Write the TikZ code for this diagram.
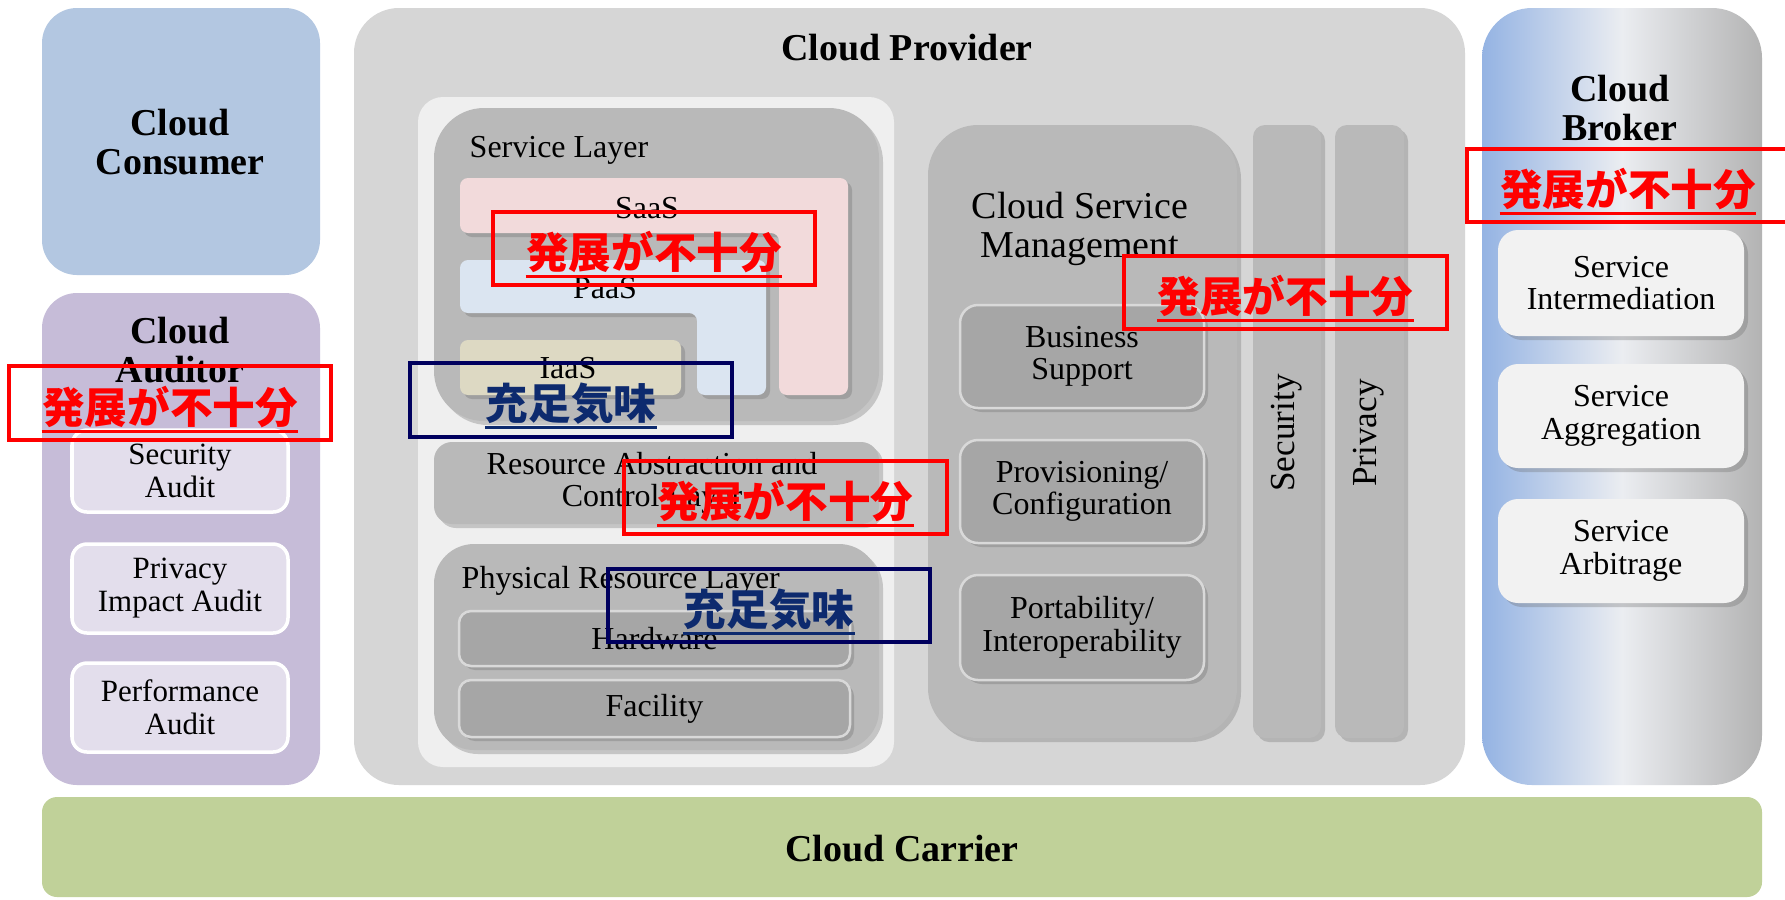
\documentclass[tikz,border=0pt]{standalone}
\usepackage{fontspec}
\setmainfont{Liberation Serif}
\newfontfamily\cjk{Noto Sans CJK JP}
\usetikzlibrary{fit,shadows}
\definecolor{consumerc}{HTML}{B3C7E1}
\definecolor{auditorc}{HTML}{C6BCD8}
\definecolor{auditsubc}{HTML}{E3DEEC}
\definecolor{providerc}{HTML}{D6D6D6}
\definecolor{panelc}{HTML}{EFEFEF}
\definecolor{layerc}{HTML}{B9B9B9}
\definecolor{subc}{HTML}{A6A6A6}
\definecolor{saasc}{HTML}{F2DADB}
\definecolor{paasc}{HTML}{DBE5F1}
\definecolor{iaasc}{HTML}{DDD9C3}
\definecolor{brokerL}{HTML}{94B3E3}
\definecolor{brokerM}{HTML}{EBEDF1}
\definecolor{brokerR}{HTML}{B3B3B3}
\definecolor{brokersubc}{HTML}{F2F2F2}
\definecolor{carrierc}{HTML}{C0D199}
\definecolor{navytext}{HTML}{0D2A6E}
\definecolor{navyline}{HTML}{00005E}
\newcommand\ftitle{\bfseries\fontsize{10.8}{11.3}\selectfont}
\newcommand\fmgmt{\fontsize{10.8}{11.2}\selectfont}
\newcommand\fmid{\fontsize{9.1}{9.2}\selectfont}
\newcommand\fsmall{\fontsize{8.8}{9.4}\selectfont}
\newcommand\fcol{\fontsize{10}{10}\selectfont}
\newcommand\fjp{\cjk\bfseries\fontsize{12.1}{13}\selectfont}
\begin{document}
\begin{tikzpicture}[x=0.01cm,y=-0.01cm,
  area/.style={fit={#1}, inner sep=0pt, outer sep=0pt},
  shad/.style={drop shadow={shadow xshift=0.04cm, shadow yshift=-0.04cm, opacity=0.3, fill=black!60}},
  title/.style={align=center, font=\ftitle, inner sep=0pt},
  lbl/.style={align=center, font=\fmid, inner sep=0pt},
  audsub/.style={fill=auditsubc, draw=white, line width=0.035cm, rounded corners=0.15cm},
  graysub/.style={fill=subc, draw=black!15, line width=0.025cm, rounded corners=0.18cm, shad},
  brksub/.style={fill=brokersubc, rounded corners=0.2cm, shad},
  col/.style={fill=layerc, rounded corners=0.12cm, shad},
  annot/.style={draw=#1, line width=0.04cm, minimum width=3.22cm, minimum height=0.73cm, inner sep=0pt},
  jptext/.style={text=#1, font=\fjp, inner sep=0pt},
  uline/.style={draw=#1, line width=0.03cm}]
\useasboundingbox (0,0) rectangle (1785,899);
\fill[white] (0,0) rectangle (1785,899);

% Cloud Consumer
\node[area={(42,8)(320,275)}, fill=consumerc, rounded corners=0.35cm] (consumer) {};
\node[title] (consumerT) at (180,142) {Cloud\\Consumer};

% Cloud Auditor
\node[area={(42,293)(320,785)}, fill=auditorc, rounded corners=0.35cm] (auditor) {};
\node[title] (auditorT) at (180,350) {Cloud\\Auditor};
\node[area={(72,430)(288,512)}, audsub] (secaudit) {};
\node[lbl, font=\fsmall] at (secaudit) {Security\\Audit};
\node[area={(72,544)(288,633)}, audsub] (privaudit) {};
\node[lbl, font=\fsmall] at (privaudit) {Privacy\\Impact Audit};
\node[area={(72,663)(288,752)}, audsub] (perfaudit) {};
\node[lbl, font=\fsmall] at (perfaudit) {Performance\\Audit};

% Cloud Provider
\node[area={(354,8)(1465,785)}, fill=providerc, rounded corners=0.45cm] (provider) {};
\node[title] (providerT) at (907,48) {Cloud Provider};
\node[area={(418,97)(894,767)}, fill=panelc, rounded corners=0.25cm] (panel) {};

% Service layer
\node[area={(434,108)(879,421)}, fill=layerc, rounded corners=0.5cm, shad] (servlayer) {};
\node[font=\fmid, anchor=west, inner sep=0pt] (servlayerT) at (469,150) {Service Layer};
\path[fill=saasc, rounded corners=0.08cm, shad] (460,178) -- (848,178) -- (848,395) -- (779,395) -- (779,233) -- (460,233) -- cycle;
\node[lbl] (saasT) at (647,208) {SaaS};
\path[fill=paasc, rounded corners=0.08cm, shad] (460,260) -- (766,260) -- (766,395) -- (697,395) -- (697,313) -- (460,313) -- cycle;
\node[lbl] (paasT) at (605,288) {PaaS};
\node[area={(460,340)(681,395)}, fill=iaasc, rounded corners=0.08cm, shad] (iaas) {};
\node[lbl] (iaasT) at (568,368) {IaaS};

% Resource abstraction
\node[area={(434,442)(879,524)}, fill=layerc, rounded corners=0.18cm, shad] (resabs) {};
\node[lbl] (resabsT) at (652,483) {Resource Abstraction and\\Control Layer};

% Physical
\node[area={(434,544)(879,750)}, fill=layerc, rounded corners=0.4cm, shad] (phys) {};
\node[font=\fmid, anchor=west, inner sep=0pt] (physT) at (461,581) {Physical Resource Layer};
\node[area={(459,611)(850,666)}, graysub, rounded corners=0.12cm] (hardware) {};
\node[lbl] at (hardware) {Hardware};
\node[area={(459,680)(850,737)}, graysub, rounded corners=0.12cm] (facility) {};
\node[lbl] at (facility) {Facility};

% Cloud Service Management
\node[area={(928,125)(1237,738)}, fill=layerc, rounded corners=0.5cm, shad] (csm) {};
\node[align=center, font=\fmgmt, inner sep=0pt] (csmT) at (1080,229) {Cloud Service\\Management};
\node[area={(960,305)(1204,408)}, graysub] (business) {};
\node[lbl] at (business) {Business\\Support};
\node[area={(960,440)(1204,543)}, graysub] (provisioning) {};
\node[lbl] at (provisioning) {Provisioning/\\Configuration};
\node[area={(960,575)(1204,680)}, graysub] (portability) {};
\node[lbl] at (portability) {Portability/\\Interoperability};

% Security / Privacy
\node[area={(1253,125)(1321,738)}, col] (security) {};
\node[font=\fcol, rotate=90, inner sep=0pt] (securityT) at (1287,433) {Security};
\node[area={(1335,125)(1404,738)}, col] (privacy) {};
\node[font=\fcol, rotate=90, inner sep=0pt] (privacyT) at (1369,433) {Privacy};

% Cloud Broker
\node[area={(1482,8)(1762,785)}, left color=brokerL, right color=brokerR, middle color=brokerM, rounded corners=0.5cm] (broker) {};
\node[title] (brokerT) at (1620,108) {Cloud\\Broker};
\node[area={(1498,230)(1744,336)}, brksub] (interm) {};
\node[lbl] at (interm) {Service\\Intermediation};
\node[area={(1498,364)(1744,468)}, brksub] (aggr) {};
\node[lbl] at (aggr) {Service\\Aggregation};
\node[area={(1498,499)(1744,603)}, brksub] (arbit) {};
\node[lbl] at (arbit) {Service\\Arbitrage};

% Cloud Carrier
\node[area={(42,797)(1762,897)}, fill=carrierc, rounded corners=0.15cm] (carrier) {};
\node[title] (carrierT) at (902,849) {Cloud Carrier};

% Annotations
\foreach \n/\x/\y/\c in {r1/170/403/red, r2/654/248.5/red, r3/1285.5/292.5/red, r4/1628/185.5/red, r5/785.5/497.5/red, b1/571/400/navyline, b2/769/605.5/navyline}{
  \node[annot=\c] (\n) at (\x,\y) {};
}
\foreach \n/\c/\t in {r1/red/発展が不十分, r2/red/発展が不十分, r3/red/発展が不十分, r4/red/発展が不十分, r5/red/発展が不十分, b1/navytext/充足気味, b2/navytext/充足気味}{
  \node[jptext=\c, yshift=-0.04cm] (\n t) at (\n) {\t};
  \draw[uline=\c] ([yshift=-0.08cm]\n t.base west) -- ([yshift=-0.08cm]\n t.base east);
}
\end{tikzpicture}
\end{document}
